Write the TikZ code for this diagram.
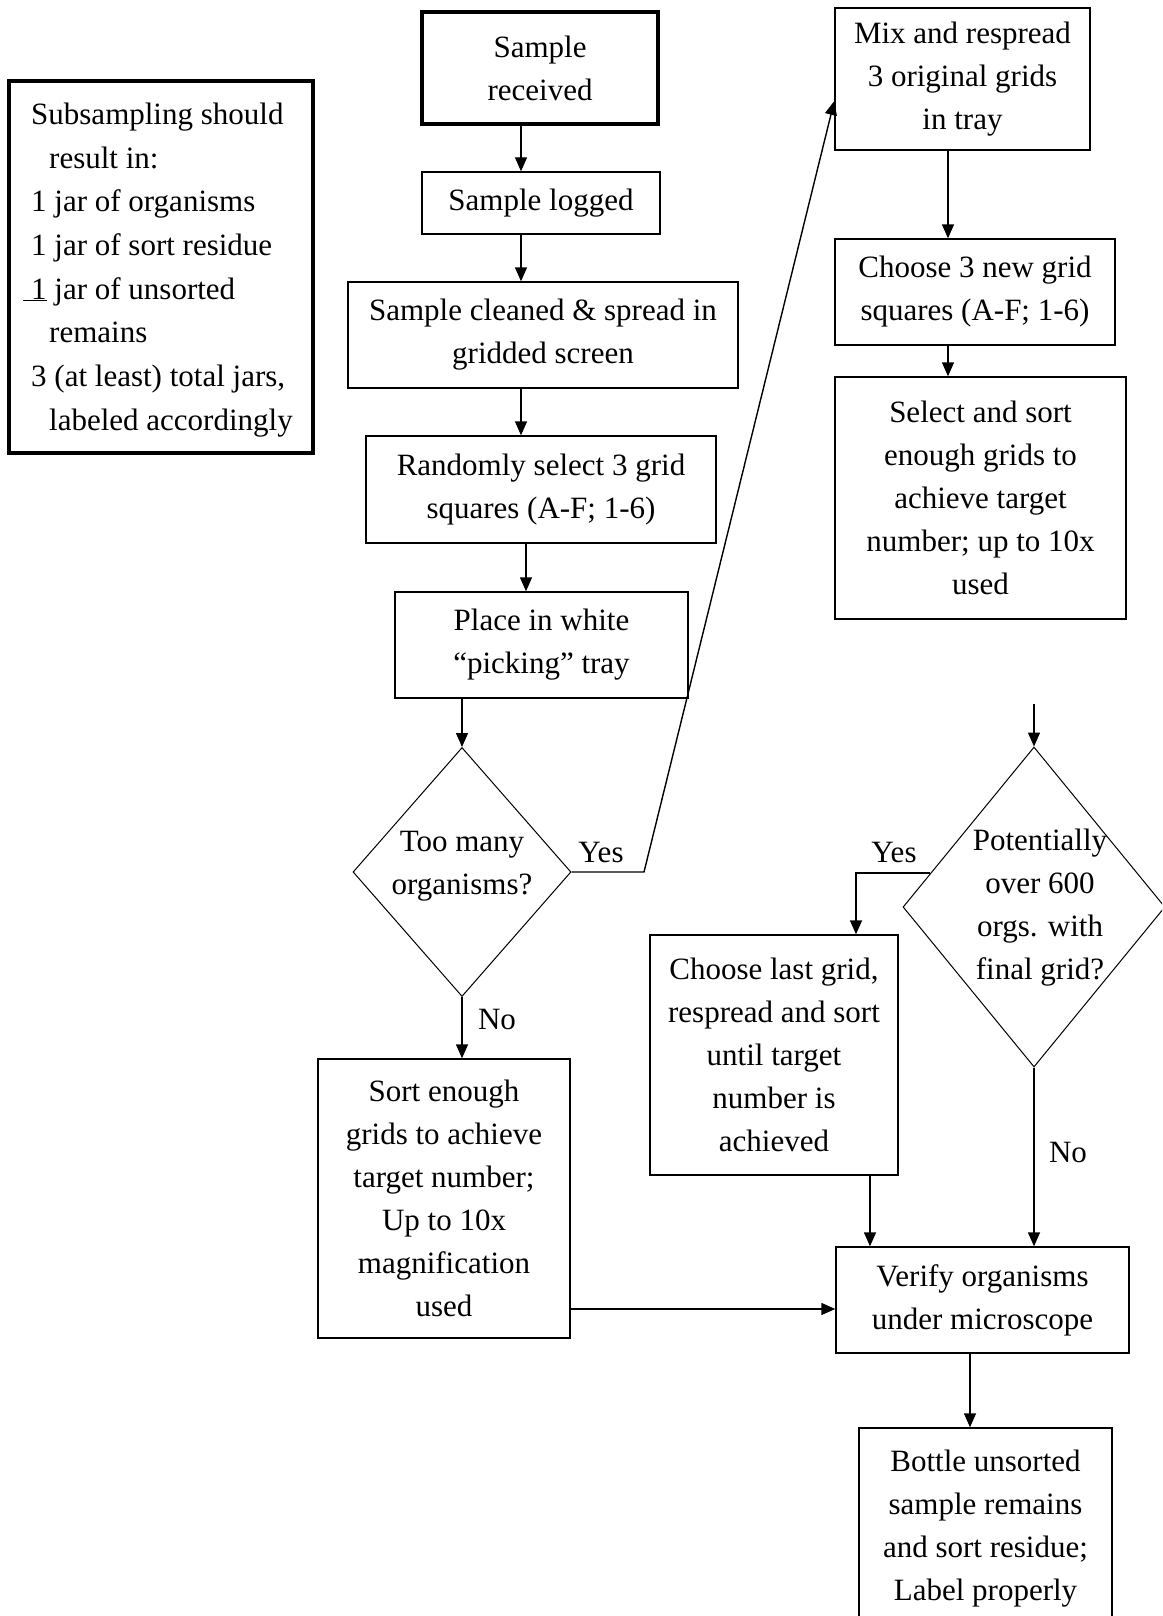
\documentclass[tikz,border=0pt]{standalone}
\usepackage{fontspec}
\setmainfont{Liberation Serif}
\usetikzlibrary{shapes.geometric,arrows.meta,calc}
\begin{document}
\begin{tikzpicture}[x=1pt,y=-1pt,
  every node/.style={font=\fontsize{31}{43}\selectfont},
  box/.style={draw, line width=1.4pt, rectangle, inner sep=0pt, align=center},
  thickbox/.style={box, line width=4pt},
  dia/.style={draw, diamond, line width=1pt, inner sep=0pt},
  lbl/.style={inner sep=0pt, align=center},
  arr/.style={line width=1.4pt, -{Triangle[length=14pt,width=12pt]}}
]
\useasboundingbox (0,0) rectangle (1162,1616);
\clip (0,0) rectangle (1162,1616);

% legend
\node[thickbox, minimum width=304, minimum height=372] (legend) at (161,267) {};
\node[lbl, anchor=west, align=left, font=\fontsize{31}{43.7}\selectfont] (legtext) at (31,270) {%
Subsampling should\\
\hspace*{18pt}result in:\\
1 jar of organisms\\
1 jar of sort residue\\
\hspace*{-8pt}\underline{\hspace*{8pt}1} jar of unsorted\\
\hspace*{18pt}remains\\
3 (at least) total jars,\\
\hspace*{18pt}labeled accordingly};

% left column
\node[thickbox, minimum width=236, minimum height=112] (recv) at (540,68) {Sample\\received};
\node[box, minimum width=238, minimum height=62] (logged) at (541,203) {Sample logged};
\node[box, minimum width=390, minimum height=106] (cleaned) at (543,335) {Sample cleaned \& spread in\\gridded screen};
\node[box, minimum width=350, minimum height=107] (random) at (541,489.5) {Randomly select 3 grid\\squares (A-F; 1-6)};
\node[box, minimum width=293, minimum height=106] (place) at (541.5,645) {Place in white\\``picking'' tray};
\node[dia, minimum width=218, minimum height=249] (d1) at (462,872) {};
\node[lbl] (d1text) at (462,866) {Too many\\organisms?};
\node[box, minimum width=252, minimum height=279] (sort) at (444,1198.5) {Sort enough\\grids to achieve\\target number;\\Up to 10x\\magnification\\used};

% right column
\node[box, minimum width=255, minimum height=142] (mix) at (962.5,79) {Mix and respread\\3 original grids\\in tray};
\node[box, minimum width=280, minimum height=106] (choose3) at (975,292) {Choose 3 new grid\\squares (A-F; 1-6)};
\node[box, minimum width=291, minimum height=242] (select) at (980.5,498) {Select and sort\\enough grids to\\achieve target\\number; up to 10x\\used};
\node[box, minimum width=248, minimum height=240] (cl) at (774,1055) {Choose last grid,\\respread and sort\\until target\\number is\\achieved};
\node[dia, minimum width=262, minimum height=320] (d2) at (1034,907) {};
\node[lbl] (d2text) at (1040,908) {Potentially\\over 600\\orgs. with\\final grid?};
\node[box, minimum width=293, minimum height=106] (verify) at (982.5,1300) {Verify organisms\\under microscope};
\node[box, minimum width=253, minimum height=202] (bottle) at (985.5,1529) {Bottle unsorted\\sample remains\\and sort residue;\\Label properly};

% helper coordinates
\coordinate (colA) at (521,0);
\coordinate (colB) at (526,0);
\coordinate (colY) at (644,0);
\coordinate (colD) at (948,0);
\coordinate (colG) at (856,0);
\coordinate (colE) at (870,0);
\coordinate (colF) at (970,0);
\coordinate (rowH) at (0,1309);
\coordinate (d2in) at (1034,704);

% connectors
\draw[arr] (recv.south -| colA) -- (logged.north -| colA);
\draw[arr] (logged.south -| colA) -- (cleaned.north -| colA);
\draw[arr] (cleaned.south -| colA) -- (random.north -| colA);
\draw[arr] (random.south -| colB) -- (place.north -| colB);
\draw[arr] (place.south -| d1.north) -- (d1.north);
\draw[arr] (d1.south) -- (sort.north -| d1.south);
\draw[arr] (d1.east) -- (d1.east -| colY) -- ([yshift=-22pt]mix.west);
\draw[arr] (mix.south -| colD) -- (choose3.north -| colD);
\draw[arr] (choose3.south -| colD) -- (select.north -| colD);
\draw[arr] (d2in) -- (d2.north);
\coordinate (y2s) at ($(d2.west)!0.2125!(d2.north)$);
\draw[arr] (y2s) -| (cl.north -| colG);
\draw[arr] (d2.south) -- (verify.north -| d2.south);
\draw[arr] (cl.south -| colE) -- (verify.north -| colE);
\draw[arr] (sort.east |- rowH) -- (verify.west |- rowH);
\draw[arr] (verify.south -| colF) -- (bottle.north -| colF);

% labels
\node[lbl] (yes1) at (601,852) {Yes};
\node[lbl] (no1) at (497,1019) {No};
\node[lbl] (yes2) at (894,852) {Yes};
\node[lbl] (no2) at (1068,1152) {No};
\end{tikzpicture}
\end{document}
